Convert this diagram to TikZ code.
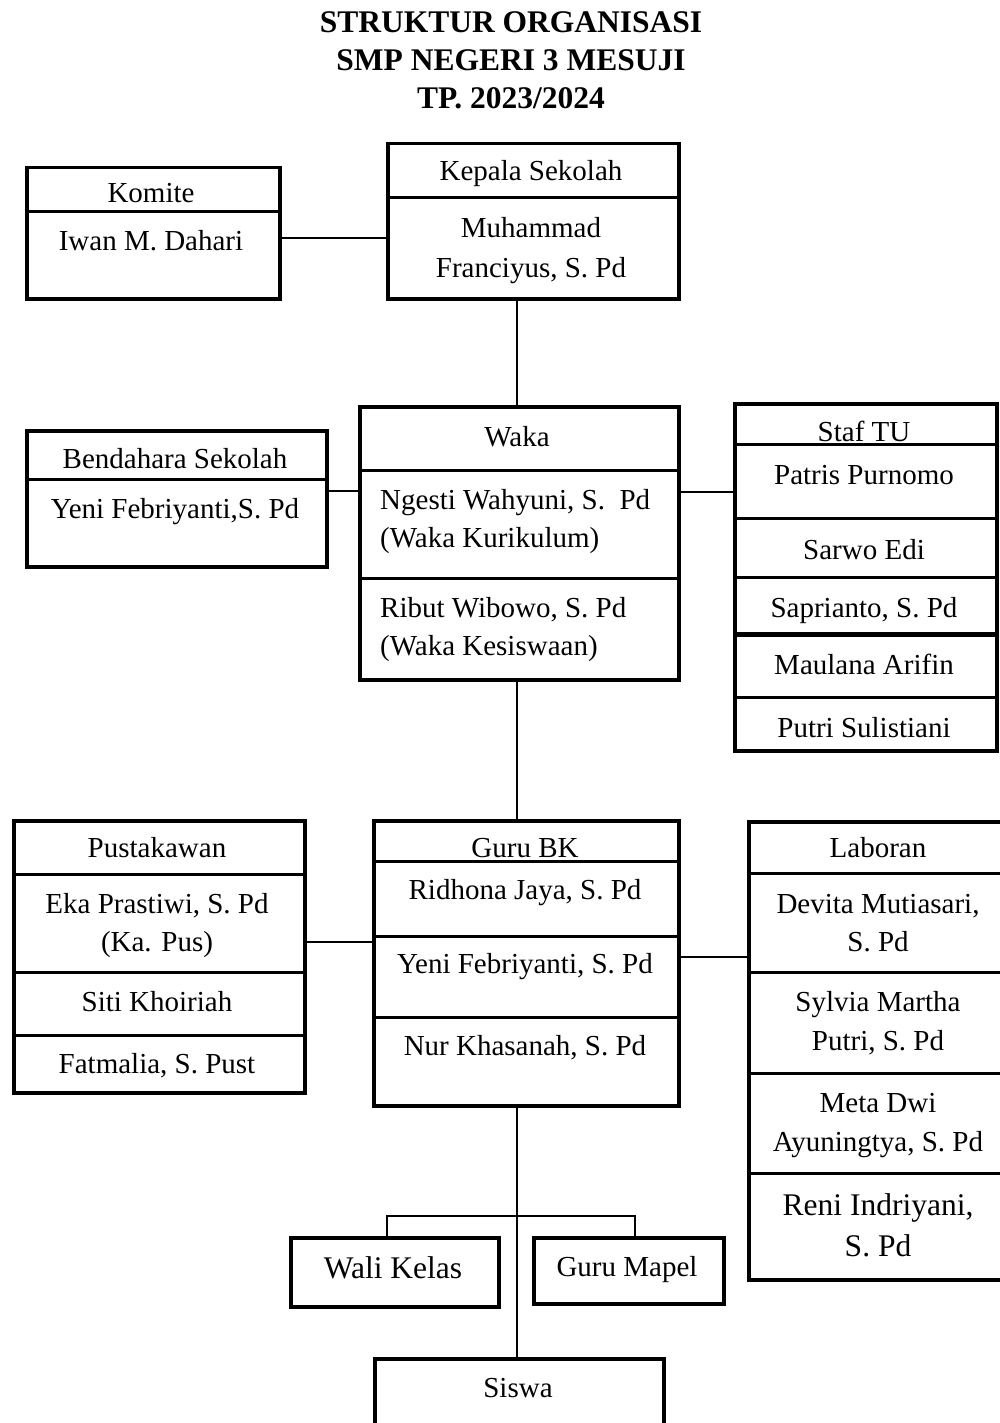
\documentclass[tikz,border=0pt]{standalone}
\usepackage{fontspec}
\setmainfont{Liberation Serif}
\newcommand\myfont{\fontsize{29}{34}\selectfont}
\newcommand\mybig{\fontsize{31.5}{36}\selectfont}
\newcommand\mytitle{\fontsize{31.5}{36}\selectfont\bfseries}
\begin{document}
\begin{tikzpicture}[x=1pt,y=-1pt,
  box/.style={draw, line width=3.5pt, inner sep=0pt, anchor=north west},
  div/.style={line width=3pt},
  link/.style={line width=1.6pt},
  txt/.style={anchor=base, inner sep=0pt, font=\myfont},
  ltxt/.style={anchor=base west, inner sep=0pt, font=\myfont},
  ttl/.style={anchor=base, inner sep=0pt, font=\mytitle}]
\useasboundingbox (0,0) rectangle (1000,1423);
\clip (0,0) rectangle (1000,1423);
% title
\node[ttl] (t1) at (511,32.5) {STRUKTUR ORGANISASI};
\node[ttl] (t2) at (511,70.5) {SMP NEGERI 3 MESUJI};
\node[ttl] (t3) at (511,108.5) {TP. 2023/2024};
% boxes
\node[box, minimum width=253pt, minimum height=131pt] (komite) at (25,166) {};
\node[box, minimum width=291pt, minimum height=155pt] (kepala) at (386,142) {};
\node[box, minimum width=300pt, minimum height=136pt] (bendahara) at (25,429) {};
\node[box, minimum width=319pt, minimum height=273pt] (waka) at (358,405) {};
\node[box, minimum width=262pt, minimum height=347pt] (staf) at (733,402) {};
\node[box, minimum width=291pt, minimum height=272pt] (pustaka) at (12,819) {};
\node[box, minimum width=305pt, minimum height=285pt] (gurubk) at (372,819) {};
\node[box, minimum width=263pt, minimum height=458pt] (laboran) at (747,820) {};
\node[box, minimum width=208pt, minimum height=69pt] (wali) at (289,1236) {};
\node[box, minimum width=190pt, minimum height=66pt] (mapel) at (532,1236) {};
\node[box, minimum width=289pt, minimum height=110pt] (siswa) at (373,1357) {};
% dividers
\draw[div] (komite.west |- 0,212) -- (komite.east |- 0,212);
\draw[div] (kepala.west |- 0,198) -- (kepala.east |- 0,198);
\draw[div] (bendahara.west |- 0,479) -- (bendahara.east |- 0,479);
\draw[div] (waka.west |- 0,470) -- (waka.east |- 0,470);
\draw[div] (waka.west |- 0,578) -- (waka.east |- 0,578);
\draw[div] (staf.west |- 0,444) -- (staf.east |- 0,444);
\draw[div] (staf.west |- 0,518) -- (staf.east |- 0,518);
\draw[div] (staf.west |- 0,577) -- (staf.east |- 0,577);
\draw[div, line width=5pt] (staf.west |- 0,634) -- (staf.east |- 0,634);
\draw[div] (staf.west |- 0,697) -- (staf.east |- 0,697);
\draw[div] (pustaka.west |- 0,874) -- (pustaka.east |- 0,874);
\draw[div] (pustaka.west |- 0,972) -- (pustaka.east |- 0,972);
\draw[div] (pustaka.west |- 0,1035) -- (pustaka.east |- 0,1035);
\draw[div] (gurubk.west |- 0,861) -- (gurubk.east |- 0,861);
\draw[div] (gurubk.west |- 0,936) -- (gurubk.east |- 0,936);
\draw[div] (gurubk.west |- 0,1017) -- (gurubk.east |- 0,1017);
\draw[div] (laboran.west |- 0,873) -- (laboran.east |- 0,873);
\draw[div] (laboran.west |- 0,972) -- (laboran.east |- 0,972);
\draw[div] (laboran.west |- 0,1073) -- (laboran.east |- 0,1073);
\draw[div] (laboran.west |- 0,1173) -- (laboran.east |- 0,1173);
% connectors
\draw[link] (komite.east |- 0,238) -- (kepala.west |- 0,238);
\draw[link] (waka.north -| 517,0) -- (kepala.south -| 517,0);
\draw[link] (bendahara.east |- 0,491) -- (waka.west |- 0,491);
\draw[link] (waka.east |- 0,492) -- (staf.west |- 0,492);
\draw[link] (waka.south -| 517,0) -- (gurubk.north -| 517,0);
\draw[link] (pustaka.east |- 0,942) -- (gurubk.west |- 0,942);
\draw[link] (gurubk.east |- 0,957) -- (laboran.west |- 0,957);
\draw[link] (gurubk.south -| 517,0) -- (siswa.north -| 517,0);
\coordinate (bl) at (387,1216);
\coordinate (br) at (635,1216);
\draw[link] (wali.north -| bl) -- (bl) -- (br) -- (mapel.north -| br);
% texts
\node[txt] (a1) at (151,203) {Komite};
\node[txt] (a2) at (151,251) {Iwan M. Dahari};
\node[txt] (b1) at (531,181) {Kepala Sekolah};
\node[txt] (b2) at (531,238) {Muhammad};
\node[txt] (b3) at (531,277) {Franciyus, S. Pd};
\node[txt] (c1) at (175,468) {Bendahara Sekolah};
\node[txt] (c2) at (175,518) {Yeni Febriyanti,S. Pd};
\node[txt] (d1) at (517,446) {Waka};
\node[ltxt] (d2) at (380,509) {Ngesti Wahyuni, S.\ \ Pd};
\node[ltxt] (d3) at (380,547) {(Waka Kurikulum)};
\node[ltxt] (d4) at (380,617) {Ribut Wibowo, S. Pd};
\node[ltxt] (d5) at (380,655) {(Waka Kesiswaan)};
\node[txt] (e1) at (864,441) {Staf TU};
\node[txt] (e2) at (864,484) {Patris Purnomo};
\node[txt] (e3) at (864,559) {Sarwo Edi};
\node[txt] (e4) at (864,617) {Saprianto, S. Pd};
\node[txt] (e5) at (864,674) {Maulana Arifin};
\node[txt] (e6) at (864,737) {Putri Sulistiani};
\node[txt] (f1) at (157,857) {Pustakawan};
\node[txt] (f2) at (157,913) {Eka Prastiwi, S. Pd};
\node[txt] (f3) at (157,951) {(Ka. Pus)};
\node[txt] (f4) at (157,1011) {Siti Khoiriah};
\node[txt] (f5) at (157,1073) {Fatmalia, S. Pust};
\node[txt] (g1) at (525,857) {Guru BK};
\node[txt] (g2) at (525,899) {Ridhona Jaya, S. Pd};
\node[txt] (g3) at (525,973) {Yeni Febriyanti, S. Pd};
\node[txt] (g4) at (525,1055) {Nur Khasanah, S. Pd};
\node[txt] (h1) at (878,857) {Laboran};
\node[txt] (h2) at (878,913) {Devita Mutiasari,};
\node[txt] (h3) at (878,951) {S. Pd};
\node[txt] (h4) at (878,1011) {Sylvia Martha};
\node[txt] (h5) at (878,1050) {Putri, S. Pd};
\node[txt] (h6) at (878,1112) {Meta Dwi};
\node[txt] (h7) at (878,1151) {Ayuningtya, S. Pd};
\node[txt, font=\mybig] (h8) at (878,1215) {Reni Indriyani,};
\node[txt, font=\mybig] (h9) at (878,1256) {S. Pd};
\node[txt, font=\mybig] (w1) at (393,1278) {Wali Kelas};
\node[txt] (m1) at (627,1276) {Guru Mapel};
\node[txt] (s1) at (518,1397) {Siswa};
\end{tikzpicture}
\end{document}
